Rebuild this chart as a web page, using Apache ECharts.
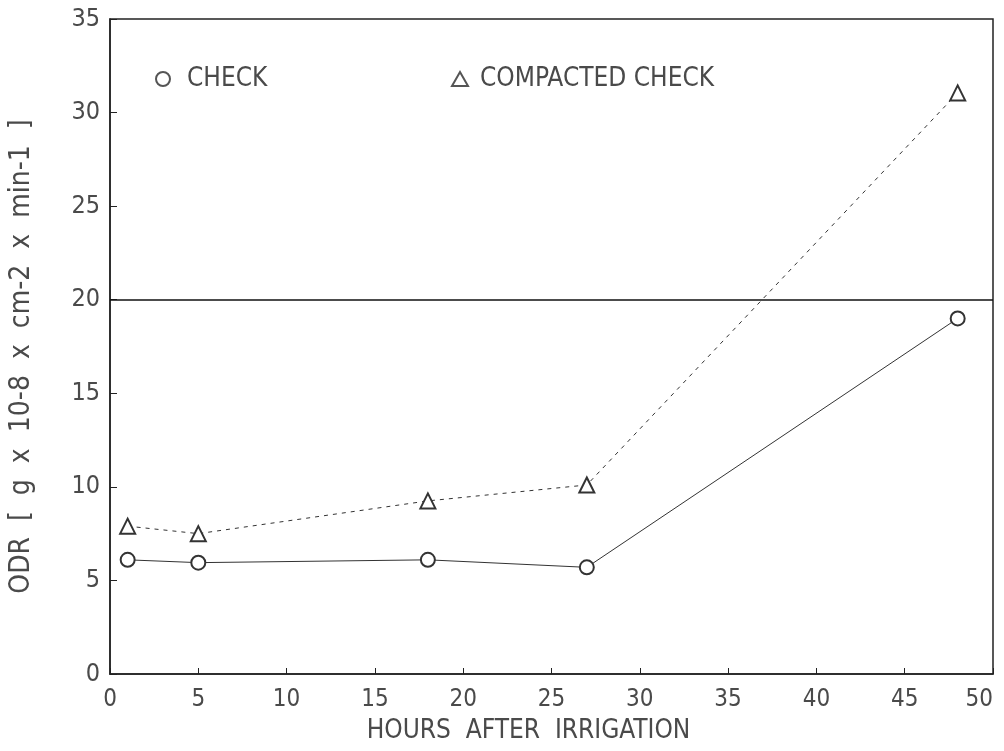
<!DOCTYPE html>
<html>
<head>
<meta charset="utf-8">
<script src="https://cdn.jsdelivr.net/npm/echarts@6/dist/echarts.min.js"></script>
<style>
  html, body { margin: 0; padding: 0; background: #fff; }
  #chart { width: 1004px; height: 751px; }
</style>
</head>
<body>
<div id="chart"></div>
<script>
var hours = [1, 5, 18, 27, 48];
var check = [6.1, 5.95, 6.1, 5.7, 19.0];
var compacted = [7.9, 7.5, 9.25, 10.1, 31.05];
var limitLine = 20;

var font = '"DejaVu Sans Condensed", "DejaVu Sans", sans-serif';
var ink = '#4a4a4a';

function pairs(xs, ys) {
  return xs.map(function (x, i) { return [x, ys[i]]; });
}

var myChart = echarts.init(document.getElementById('chart'));
myChart.setOption({
  animation: false,
  backgroundColor: '#fff',
  grid: {
    left: 110, right: 11, top: 19, bottom: 77,
    outerBoundsMode: 'none',
    show: true, borderColor: '#222', borderWidth: 1.5
  },
  legend: [
    {
      data: ['CHECK'], left: 150, top: 61,
      icon: 'emptyCircle', itemWidth: 14, itemHeight: 14,
      itemStyle: { color: '#555' },
      textStyle: { fontFamily: font, fontSize: 26, color: ink, padding: [0, 0, 0, 12] }
    },
    {
      data: ['COMPACTED CHECK'], left: 446, top: 61,
      icon: 'emptyTriangle', itemWidth: 16, itemHeight: 14,
      itemStyle: { color: '#555' },
      textStyle: { fontFamily: font, fontSize: 26, color: ink, padding: [0, 0, 0, 7] }
    }
  ],
  xAxis: {
    type: 'value', min: 0, max: 50, interval: 5,
    name: 'HOURS  AFTER  IRRIGATION',
    nameLocation: 'middle', nameGap: 44,
    nameTextStyle: { fontFamily: font, fontSize: 26, color: ink, padding: [0, 46, 0, 0] },
    axisLine: { lineStyle: { color: '#222', width: 1.5 } },
    axisTick: { inside: true, length: 6, lineStyle: { color: '#222' } },
    axisLabel: { fontFamily: font, fontSize: 24, color: ink, margin: 14, alignMaxLabel: 'right' },
    splitLine: { show: false }
  },
  yAxis: {
    type: 'value', min: 0, max: 35, interval: 5,
    name: 'ODR  [  g  x  10-8  x  cm-2  x  min-1  ]',
    nameLocation: 'middle', nameGap: 74,
    nameTextStyle: { fontFamily: font, fontSize: 28, color: ink, padding: [0, 20, 0, 0] },
    axisLine: { lineStyle: { color: '#222', width: 1.5 } },
    axisTick: { inside: true, length: 7, lineStyle: { color: '#222' } },
    axisLabel: { fontFamily: font, fontSize: 25, color: ink, margin: 10 },
    splitLine: { show: false }
  },
  series: [
    {
      name: 'CHECK',
      type: 'line',
      data: pairs(hours, check),
      symbol: 'emptyCircle', symbolSize: 14,
      color: '#333',
      itemStyle: { borderColor: '#333', borderWidth: 1 },
      lineStyle: { color: '#333', width: 1 },
      markLine: {
        silent: true, symbol: 'none', label: { show: false },
        lineStyle: { color: '#111', width: 1.5, type: 'solid' },
        data: [{ yAxis: limitLine }]
      }
    },
    {
      name: 'COMPACTED CHECK',
      type: 'line',
      data: pairs(hours, compacted),
      symbol: 'emptyTriangle', symbolSize: 15,
      color: '#333',
      itemStyle: { borderColor: '#333', borderWidth: 1 },
      lineStyle: { color: '#333', width: 1, type: [4, 5] }
    }
  ]
});
</script>
</body>
</html>
